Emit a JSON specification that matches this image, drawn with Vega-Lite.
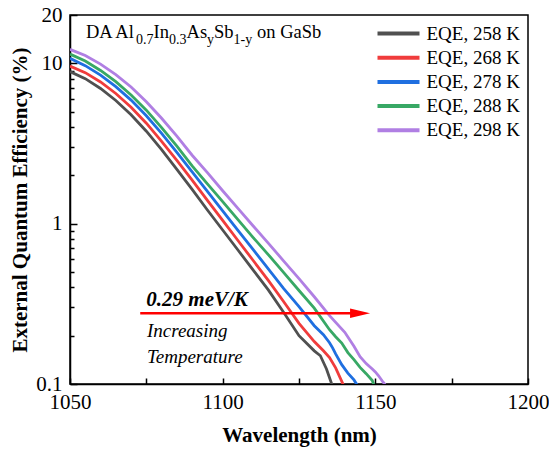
{
  "$schema": "https://vega.github.io/schema/vega-lite/v6.json",
  "width": 458,
  "height": 369,
  "autosize": {"type": "none"},
  "padding": {"left": 70, "top": 15, "right": 21, "bottom": 69},
  "background": "white",
  "config": {
    "view": {"stroke": "black", "strokeWidth": 1.5},
    "font": "Liberation Serif"
  },
  "datasets": {
    "curves": [
      {"wl": 1050, "eqe": 8.87, "series": "EQE, 258 K"}, {"wl": 1055, "eqe": 8.02, "series": "EQE, 258 K"}, {"wl": 1060, "eqe": 6.96, "series": "EQE, 258 K"}, {"wl": 1065, "eqe": 5.86, "series": "EQE, 258 K"}, {"wl": 1070, "eqe": 4.78, "series": "EQE, 258 K"}, {"wl": 1075, "eqe": 3.77, "series": "EQE, 258 K"}, {"wl": 1080, "eqe": 2.89, "series": "EQE, 258 K"}, {"wl": 1085, "eqe": 2.18, "series": "EQE, 258 K"}, {"wl": 1090, "eqe": 1.635, "series": "EQE, 258 K"}, {"wl": 1095, "eqe": 1.217, "series": "EQE, 258 K"}, {"wl": 1100, "eqe": 0.913, "series": "EQE, 258 K"}, {"wl": 1105, "eqe": 0.685, "series": "EQE, 258 K"}, {"wl": 1110, "eqe": 0.513, "series": "EQE, 258 K"}, {"wl": 1115, "eqe": 0.385, "series": "EQE, 258 K"}, {"wl": 1120, "eqe": 0.279, "series": "EQE, 258 K"}, {"wl": 1125, "eqe": 0.200, "series": "EQE, 258 K"}, {"wl": 1130, "eqe": 0.161, "series": "EQE, 258 K"}, {"wl": 1132, "eqe": 0.150, "series": "EQE, 258 K"}, {"wl": 1134, "eqe": 0.124, "series": "EQE, 258 K"}, {"wl": 1135.8, "eqe": 0.099, "series": "EQE, 258 K"},
      {"wl": 1050, "eqe": 9.60, "series": "EQE, 268 K"}, {"wl": 1055, "eqe": 8.74, "series": "EQE, 268 K"}, {"wl": 1060, "eqe": 7.65, "series": "EQE, 268 K"}, {"wl": 1065, "eqe": 6.48, "series": "EQE, 268 K"}, {"wl": 1070, "eqe": 5.32, "series": "EQE, 268 K"}, {"wl": 1075, "eqe": 4.23, "series": "EQE, 268 K"}, {"wl": 1080, "eqe": 3.26, "series": "EQE, 268 K"}, {"wl": 1085, "eqe": 2.48, "series": "EQE, 268 K"}, {"wl": 1090, "eqe": 1.87, "series": "EQE, 268 K"}, {"wl": 1095, "eqe": 1.396, "series": "EQE, 268 K"}, {"wl": 1100, "eqe": 1.047, "series": "EQE, 268 K"}, {"wl": 1105, "eqe": 0.785, "series": "EQE, 268 K"}, {"wl": 1110, "eqe": 0.589, "series": "EQE, 268 K"}, {"wl": 1115, "eqe": 0.441, "series": "EQE, 268 K"}, {"wl": 1120, "eqe": 0.326, "series": "EQE, 268 K"}, {"wl": 1125, "eqe": 0.239, "series": "EQE, 268 K"}, {"wl": 1130, "eqe": 0.184, "series": "EQE, 268 K"}, {"wl": 1133, "eqe": 0.161, "series": "EQE, 268 K"}, {"wl": 1135, "eqe": 0.146, "series": "EQE, 268 K"}, {"wl": 1137, "eqe": 0.126, "series": "EQE, 268 K"}, {"wl": 1139.5, "eqe": 0.099, "series": "EQE, 268 K"},
      {"wl": 1050, "eqe": 10.73, "series": "EQE, 278 K"}, {"wl": 1055, "eqe": 9.67, "series": "EQE, 278 K"}, {"wl": 1060, "eqe": 8.43, "series": "EQE, 278 K"}, {"wl": 1065, "eqe": 7.15, "series": "EQE, 278 K"}, {"wl": 1070, "eqe": 5.89, "series": "EQE, 278 K"}, {"wl": 1075, "eqe": 4.71, "series": "EQE, 278 K"}, {"wl": 1080, "eqe": 3.66, "series": "EQE, 278 K"}, {"wl": 1085, "eqe": 2.78, "series": "EQE, 278 K"}, {"wl": 1090, "eqe": 2.10, "series": "EQE, 278 K"}, {"wl": 1095, "eqe": 1.589, "series": "EQE, 278 K"}, {"wl": 1100, "eqe": 1.200, "series": "EQE, 278 K"}, {"wl": 1105, "eqe": 0.909, "series": "EQE, 278 K"}, {"wl": 1110, "eqe": 0.688, "series": "EQE, 278 K"}, {"wl": 1115, "eqe": 0.521, "series": "EQE, 278 K"}, {"wl": 1120, "eqe": 0.393, "series": "EQE, 278 K"}, {"wl": 1125, "eqe": 0.304, "series": "EQE, 278 K"}, {"wl": 1130, "eqe": 0.231, "series": "EQE, 278 K"}, {"wl": 1133, "eqe": 0.203, "series": "EQE, 278 K"}, {"wl": 1135, "eqe": 0.181, "series": "EQE, 278 K"}, {"wl": 1136, "eqe": 0.168, "series": "EQE, 278 K"}, {"wl": 1137, "eqe": 0.154, "series": "EQE, 278 K"}, {"wl": 1139, "eqe": 0.132, "series": "EQE, 278 K"}, {"wl": 1141, "eqe": 0.117, "series": "EQE, 278 K"}, {"wl": 1143, "eqe": 0.106, "series": "EQE, 278 K"}, {"wl": 1144, "eqe": 0.099, "series": "EQE, 278 K"},
      {"wl": 1050, "eqe": 11.41, "series": "EQE, 288 K"}, {"wl": 1055, "eqe": 10.32, "series": "EQE, 288 K"}, {"wl": 1060, "eqe": 9.02, "series": "EQE, 288 K"}, {"wl": 1065, "eqe": 7.68, "series": "EQE, 288 K"}, {"wl": 1070, "eqe": 6.35, "series": "EQE, 288 K"}, {"wl": 1075, "eqe": 5.10, "series": "EQE, 288 K"}, {"wl": 1080, "eqe": 3.97, "series": "EQE, 288 K"}, {"wl": 1085, "eqe": 3.04, "series": "EQE, 288 K"}, {"wl": 1090, "eqe": 2.29, "series": "EQE, 288 K"}, {"wl": 1095, "eqe": 1.772, "series": "EQE, 288 K"}, {"wl": 1100, "eqe": 1.370, "series": "EQE, 288 K"}, {"wl": 1105, "eqe": 1.060, "series": "EQE, 288 K"}, {"wl": 1110, "eqe": 0.819, "series": "EQE, 288 K"}, {"wl": 1115, "eqe": 0.639, "series": "EQE, 288 K"}, {"wl": 1120, "eqe": 0.495, "series": "EQE, 288 K"}, {"wl": 1125, "eqe": 0.383, "series": "EQE, 288 K"}, {"wl": 1130, "eqe": 0.297, "series": "EQE, 288 K"}, {"wl": 1135, "eqe": 0.218, "series": "EQE, 288 K"}, {"wl": 1137, "eqe": 0.197, "series": "EQE, 288 K"}, {"wl": 1139, "eqe": 0.180, "series": "EQE, 288 K"}, {"wl": 1141, "eqe": 0.157, "series": "EQE, 288 K"}, {"wl": 1143, "eqe": 0.142, "series": "EQE, 288 K"}, {"wl": 1145, "eqe": 0.127, "series": "EQE, 288 K"}, {"wl": 1147, "eqe": 0.116, "series": "EQE, 288 K"}, {"wl": 1149, "eqe": 0.105, "series": "EQE, 288 K"}, {"wl": 1149.5, "eqe": 0.099, "series": "EQE, 288 K"},
      {"wl": 1050, "eqe": 12.21, "series": "EQE, 298 K"}, {"wl": 1055, "eqe": 11.17, "series": "EQE, 298 K"}, {"wl": 1060, "eqe": 9.88, "series": "EQE, 298 K"}, {"wl": 1065, "eqe": 8.49, "series": "EQE, 298 K"}, {"wl": 1070, "eqe": 7.11, "series": "EQE, 298 K"}, {"wl": 1075, "eqe": 5.76, "series": "EQE, 298 K"}, {"wl": 1080, "eqe": 4.54, "series": "EQE, 298 K"}, {"wl": 1085, "eqe": 3.51, "series": "EQE, 298 K"}, {"wl": 1090, "eqe": 2.67, "series": "EQE, 298 K"}, {"wl": 1095, "eqe": 2.08, "series": "EQE, 298 K"}, {"wl": 1100, "eqe": 1.604, "series": "EQE, 298 K"}, {"wl": 1105, "eqe": 1.244, "series": "EQE, 298 K"}, {"wl": 1110, "eqe": 0.967, "series": "EQE, 298 K"}, {"wl": 1115, "eqe": 0.754, "series": "EQE, 298 K"}, {"wl": 1120, "eqe": 0.584, "series": "EQE, 298 K"}, {"wl": 1125, "eqe": 0.454, "series": "EQE, 298 K"}, {"wl": 1130, "eqe": 0.350, "series": "EQE, 298 K"}, {"wl": 1135, "eqe": 0.267, "series": "EQE, 298 K"}, {"wl": 1140, "eqe": 0.210, "series": "EQE, 298 K"}, {"wl": 1143, "eqe": 0.172, "series": "EQE, 298 K"}, {"wl": 1145, "eqe": 0.148, "series": "EQE, 298 K"}, {"wl": 1147, "eqe": 0.134, "series": "EQE, 298 K"}, {"wl": 1149, "eqe": 0.124, "series": "EQE, 298 K"}, {"wl": 1150, "eqe": 0.119, "series": "EQE, 298 K"}, {"wl": 1151, "eqe": 0.113, "series": "EQE, 298 K"}, {"wl": 1152.5, "eqe": 0.103, "series": "EQE, 298 K"}, {"wl": 1153.2, "eqe": 0.099, "series": "EQE, 298 K"}
    ],
    "mainText": [
      {"wl": 1055.24, "eqe": 14.36, "text": "DA Al"},
      {"wl": 1077.35, "eqe": 14.36, "text": "In"},
      {"wl": 1088.16, "eqe": 14.36, "text": "As"},
      {"wl": 1097.17, "eqe": 14.36, "text": "Sb"},
      {"wl": 1111.25, "eqe": 14.36, "text": "on GaSb"}
    ],
    "subText": [
      {"wl": 1071.62, "eqe": 13.18, "text": "0.7"},
      {"wl": 1082.43, "eqe": 13.18, "text": "0.3"},
      {"wl": 1094.87, "eqe": 13.18, "text": "y"},
      {"wl": 1103.55, "eqe": 13.18, "text": "1-y"}
    ],
    "italicText": [
      {"wl": 1075.2, "eqe": 0.195, "text": "Increasing"},
      {"wl": 1075.2, "eqe": 0.136, "text": "Temperature"}
    ],
    "boldText": [
      {"wl": 1075.0, "eqe": 0.308, "text": "0.29 meV/K"}
    ],
    "arrow": [
      {"wl": 1073, "wl2": 1143.5, "eqe": 0.276}
    ],
    "arrowHead": [
      {"wl": 1145.0, "eqe": 0.276}
    ]
  },
  "layer": [
    {
      "data": {"name": "curves"},
      "mark": {"type": "line", "strokeWidth": 2.8, "clip": true},
      "encoding": {
        "x": {
          "field": "wl", "type": "quantitative",
          "scale": {"domain": [1050, 1200], "nice": false, "zero": false},
          "axis": {
            "title": "Wavelength (nm)",
            "values": [1050, 1075, 1100, 1125, 1150, 1175, 1200],
            "format": "d",
            "labelExpr": "datum.value % 50 == 0 ? datum.label : ''",
            "grid": false,
            "tickSize": -6,
            "tickWidth": 1.5,
            "tickColor": "black",
            "domainColor": "black",
            "domainWidth": 1.5,
            "labelFont": "Liberation Serif",
            "labelFontSize": 21,
            "labelColor": "black",
            "labelPadding": 13,
            "labelFlush": false,
            "labelOverlap": false,
            "labelBound": false,
            "titleFont": "Liberation Serif",
            "titleFontSize": 21,
            "titleFontWeight": "bold",
            "titleColor": "black",
            "titlePadding": 12
          }
        },
        "y": {
          "field": "eqe", "type": "quantitative",
          "scale": {"type": "log", "domain": [0.1, 20], "nice": false},
          "axis": {
            "title": "External Quantum Efficiency (%)",
            "values": [0.1, 0.2, 0.3, 0.4, 0.5, 0.6, 0.7, 0.8, 0.9, 1, 2, 3, 4, 5, 6, 7, 8, 9, 10, 20],
            "labelExpr": "datum.value == 0.1 ? '0.1' : datum.value == 1 ? '1' : datum.value == 10 ? '10' : datum.value == 20 ? '20' : ''",
            "grid": false,
            "tickSize": {"condition": {"test": "datum.value == 0.1 || datum.value == 1 || datum.value == 10 || datum.value == 20", "value": -7}, "value": -4},
            "tickWidth": 1.5,
            "tickColor": "black",
            "domainColor": "black",
            "domainWidth": 1.5,
            "labelFont": "Liberation Serif",
            "labelFontSize": 21,
            "labelColor": "black",
            "labelPadding": 15,
            "labelFlush": false,
            "labelOverlap": false,
            "labelBound": false,
            "titleFont": "Liberation Serif",
            "titleFontSize": 21,
            "titleFontWeight": "bold",
            "titleColor": "black",
            "titlePadding": 5
          }
        },
        "color": {
          "field": "series", "type": "nominal",
          "scale": {
            "domain": ["EQE, 258 K", "EQE, 268 K", "EQE, 278 K", "EQE, 288 K", "EQE, 298 K"],
            "range": ["#505050", "#f03c3c", "#1f6fe0", "#38a865", "#b07fe3"]
          },
          "legend": {
            "orient": "none",
            "legendX": 316,
            "legendY": 6,
            "title": null,
            "symbolType": "M-2,0H2",
            "symbolSize": 441,
            "symbolStrokeWidth": 4,
            "labelFont": "Liberation Serif",
            "labelFontSize": 19,
            "labelColor": "black",
            "labelOffset": 15.5,
            "rowPadding": 1.2,
            "padding": 0
          }
        }
      }
    },
    {
      "data": {"name": "arrow"},
      "mark": {"type": "rule", "color": "#ff0000", "strokeWidth": 2.5},
      "encoding": {
        "x": {"field": "wl", "type": "quantitative"},
        "x2": {"field": "wl2"},
        "y": {"field": "eqe", "type": "quantitative"}
      }
    },
    {
      "data": {"name": "arrowHead"},
      "mark": {"type": "point", "shape": "M-1,-0.47L1,0L-1,0.47Z", "size": 400, "filled": true, "color": "#ff0000", "opacity": 1, "strokeWidth": 0},
      "encoding": {
        "x": {"field": "wl", "type": "quantitative"},
        "y": {"field": "eqe", "type": "quantitative"}
      }
    },
    {
      "data": {"name": "mainText"},
      "mark": {"type": "text", "align": "left", "baseline": "alphabetic", "font": "Liberation Serif", "fontSize": 18.5, "color": "black"},
      "encoding": {
        "x": {"field": "wl", "type": "quantitative"},
        "y": {"field": "eqe", "type": "quantitative"},
        "text": {"field": "text"}
      }
    },
    {
      "data": {"name": "subText"},
      "mark": {"type": "text", "align": "left", "baseline": "alphabetic", "font": "Liberation Serif", "fontSize": 14, "color": "black"},
      "encoding": {
        "x": {"field": "wl", "type": "quantitative"},
        "y": {"field": "eqe", "type": "quantitative"},
        "text": {"field": "text"}
      }
    },
    {
      "data": {"name": "boldText"},
      "mark": {"type": "text", "align": "left", "baseline": "alphabetic", "font": "Liberation Serif", "fontSize": 21, "fontWeight": "bold", "fontStyle": "italic", "color": "black"},
      "encoding": {
        "x": {"field": "wl", "type": "quantitative"},
        "y": {"field": "eqe", "type": "quantitative"},
        "text": {"field": "text"}
      }
    },
    {
      "data": {"name": "italicText"},
      "mark": {"type": "text", "align": "left", "baseline": "alphabetic", "font": "Liberation Serif", "fontSize": 19, "fontStyle": "italic", "color": "black"},
      "encoding": {
        "x": {"field": "wl", "type": "quantitative"},
        "y": {"field": "eqe", "type": "quantitative"},
        "text": {"field": "text"}
      }
    }
  ]
}
